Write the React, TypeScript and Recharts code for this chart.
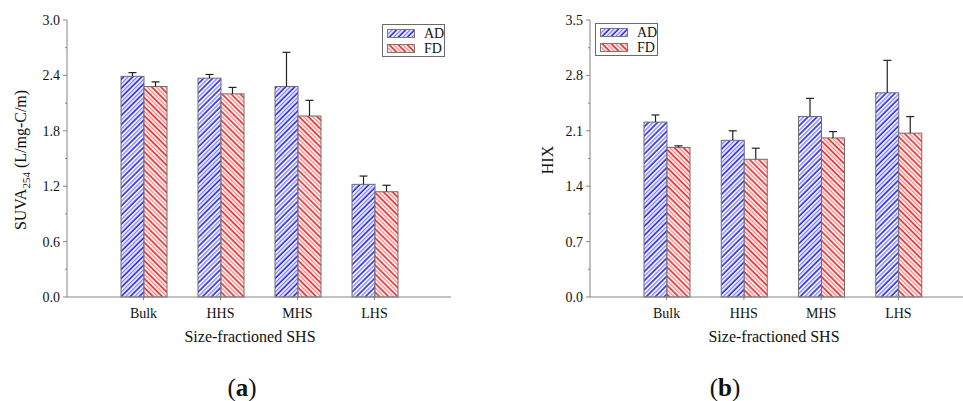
import React from "react";
import { BarChart, Bar, XAxis, YAxis } from "recharts";

// size fractions of SHS
const categories = ["Bulk", "HHS", "MHS", "LHS"];

// panel (a): SUVA254
const suvaAD = [2.39, 2.37, 2.28, 1.22];
const suvaADErr = [0.04, 0.04, 0.37, 0.09];
const suvaFD = [2.28, 2.2, 1.96, 1.14];
const suvaFDErr = [0.05, 0.07, 0.17, 0.07];
const suvaTicks = [0, 0.3, 0.6, 0.9, 1.2, 1.5, 1.8, 2.1, 2.4, 2.7, 3.0];

// panel (b): HIX
const hixAD = [2.21, 1.98, 2.28, 2.58];
const hixADErr = [0.09, 0.12, 0.23, 0.41];
const hixFD = [1.89, 1.74, 2.01, 2.07];
const hixFDErr = [0.02, 0.14, 0.08, 0.21];
const hixTicks = [0, 0.35, 0.7, 1.05, 1.4, 1.75, 2.1, 2.45, 2.8, 3.15, 3.5];

const FONT = "'Liberation Serif', 'Times New Roman', serif";
const AXIS = "#858585";

const suvaData = categories.map((name, i) => ({
  name,
  ad: suvaAD[i],
  adErr: suvaADErr[i],
  fd: suvaFD[i],
  fdErr: suvaFDErr[i],
}));

const hixData = categories.map((name, i) => ({
  name,
  ad: hixAD[i],
  adErr: hixADErr[i],
  fd: hixFD[i],
  fdErr: hixFDErr[i],
}));

const Patterns = ({ id }: { id: string }) => (
  <defs>
    <pattern
      id={`blue-${id}`}
      width="6.4"
      height="6.4"
      patternUnits="userSpaceOnUse"
      patternTransform="rotate(45)"
    >
      <rect width="6.4" height="6.4" fill="#f6f6ff" />
      <line x1="1" y1="0" x2="1" y2="6.4" stroke="#2626ee" strokeWidth="1.6" />
      <line x1="4.2" y1="0" x2="4.2" y2="6.4" stroke="#7e7eff" strokeWidth="1.3" />
    </pattern>
    <pattern
      id={`red-${id}`}
      width="6.4"
      height="6.4"
      patternUnits="userSpaceOnUse"
      patternTransform="rotate(-45)"
    >
      <rect width="6.4" height="6.4" fill="#fff6f6" />
      <line x1="1" y1="0" x2="1" y2="6.4" stroke="#f02424" strokeWidth="1.6" />
      <line x1="4.2" y1="0" x2="4.2" y2="6.4" stroke="#ff8484" strokeWidth="1.3" />
    </pattern>
  </defs>
);

// bar with a one-sided (upper) error whisker
const HatchBar = (props: any) => {
  const { x, y, width, height, fill, v, err } = props;
  if (!height || !v) return null;
  const cx = x + width / 2;
  const top = y - (err * height) / v;
  return (
    <g>
      <rect x={x} y={y} width={width} height={height} fill={fill} stroke="#6e6e6e" strokeWidth={1} />
      <line x1={cx} y1={y} x2={cx} y2={top} stroke="#222" strokeWidth={1.2} />
      <line x1={cx - 4} y1={top} x2={cx + 4} y2={top} stroke="#222" strokeWidth={1.2} />
    </g>
  );
};

const tickText: React.CSSProperties = { fontFamily: FONT, fontSize: 14, fill: "#111" };

const makeYTick = (majors: number[]) => (props: any) => {
  const { x, y, payload } = props;
  const isMajor = majors.some((m) => Math.abs(m - payload.value) < 1e-6);
  return (
    <g>
      <line x1={x} y1={y} x2={x - (isMajor ? 4 : 2)} y2={y} stroke={AXIS} />
      {isMajor && (
        <text x={x - 7} y={y} dy="0.35em" textAnchor="end" style={tickText}>
          {payload.value.toFixed(1)}
        </text>
      )}
    </g>
  );
};

const XTick = (props: any) => {
  const { x, y, payload } = props;
  return (
    <text x={x} y={y + 6} dy="0.71em" textAnchor="middle" style={tickText}>
      {payload.value}
    </text>
  );
};

const Swatch = ({ pid }: { pid: string }) => (
  <svg width={28} height={9} style={{ display: "block" }}>
    <Patterns id={`lg-${pid}`} />
    <rect x={0.5} y={0.5} width={27} height={8} fill={`url(#${pid.startsWith("b") ? "blue" : "red"}-lg-${pid})`} stroke="#7a7a7a" />
  </svg>
);

const LegendBox = ({ left, top, id }: { left: number; top: number; id: string }) => (
  <div
    style={{
      position: "absolute",
      left,
      top,
      width: 61,
      height: 31,
      border: "1px solid #6a6a6a",
      background: "#fff",
      fontFamily: FONT,
      fontSize: 14,
      color: "#111",
    }}
  >
    {[
      ["b" + id, "AD"],
      ["r" + id, "FD"],
    ].map(([pid, label], i) => (
      <div key={label} style={{ position: "absolute", left: 4, top: 4 + i * 15, display: "flex", alignItems: "center" }}>
        <Swatch pid={pid} />
        <span style={{ marginLeft: 9, lineHeight: "9px" }}>{label}</span>
      </div>
    ))}
  </div>
);

const Panel = ({
  data,
  id,
  ticks,
  majors,
  max,
  width,
  yWidth,
  right,
}: {
  data: any[];
  id: string;
  ticks: number[];
  majors: number[];
  max: number;
  width: number;
  yWidth: number;
  right: number;
}) => (
  <BarChart
    width={width}
    height={401}
    data={data}
    margin={{ top: 20, right, left: 0, bottom: 74 }}
    barGap={0}
    barSize={23}
  >
    <Patterns id={id} />
    <XAxis
      dataKey="name"
      height={30}
      padding={{ left: 38, right: 38 }}
      axisLine={{ stroke: AXIS }}
      tickLine={{ stroke: AXIS }}
      tickSize={3}
      tick={<XTick />}
    />
    <XAxis xAxisId="top" dataKey="name" orientation="top" height={0} tick={false} tickLine={false} axisLine={{ stroke: AXIS }} />
    <YAxis
      width={yWidth}
      domain={[0, max]}
      ticks={ticks}
      interval={0}
      tickLine={false}
      tickSize={0}
      tickMargin={0}
      axisLine={{ stroke: AXIS }}
      tick={makeYTick(majors)}
    />
    <YAxis yAxisId="right" orientation="right" width={0} tick={false} tickLine={false} axisLine={{ stroke: AXIS }} />
    <Bar
      dataKey="ad"
      fill={`url(#blue-${id})`}
      isAnimationActive={false}
      shape={(p: any) => <HatchBar {...p} v={p.payload.ad} err={p.payload.adErr} />}
    />
    <Bar
      dataKey="fd"
      fill={`url(#red-${id})`}
      isAnimationActive={false}
      shape={(p: any) => <HatchBar {...p} v={p.payload.fd} err={p.payload.fdErr} />}
    />
  </BarChart>
);

const textStyle: React.CSSProperties = {
  position: "absolute",
  fontFamily: FONT,
  color: "#111",
  whiteSpace: "nowrap",
  transform: "translate(-50%, -50%)",
};

export default function App() {
  return (
    <div
      style={{
        position: "fixed",
        left: 0,
        top: 0,
        width: 963,
        height: 401,
        overflow: "hidden",
        background: "#fff",
      }}
    >
      <div style={{ position: "absolute", left: 0, top: 0 }}>
        <Panel
          data={suvaData}
          id="a"
          ticks={suvaTicks}
          majors={[0, 0.6, 1.2, 1.8, 2.4, 3.0]}
          max={3}
          width={480}
          yWidth={67}
          right={29}
        />
      </div>
      <div style={{ position: "absolute", left: 480, top: 0 }}>
        <Panel
          data={hixData}
          id="b"
          ticks={hixTicks}
          majors={[0, 0.7, 1.4, 2.1, 2.8, 3.5]}
          max={3.5}
          width={520}
          yWidth={110}
          right={25}
        />
      </div>

      <LegendBox left={382} top={24} id="a" />
      <LegendBox left={595} top={23} id="b" />

      <div style={{ ...textStyle, left: 22, top: 160, fontSize: 16, transform: "translate(-50%, -50%) rotate(-90deg)" }}>
        SUVA<sub style={{ fontSize: 11, verticalAlign: "-4px" }}>254</sub> (L/mg-C/m)
      </div>
      <div style={{ ...textStyle, left: 548, top: 160, fontSize: 16, transform: "translate(-50%, -50%) rotate(-90deg)" }}>
        HIX
      </div>

      <div style={{ ...textStyle, left: 250, top: 337, fontSize: 16 }}>Size-fractioned SHS</div>
      <div style={{ ...textStyle, left: 774, top: 337, fontSize: 16 }}>Size-fractioned SHS</div>

      <div style={{ ...textStyle, left: 242, top: 388, fontSize: 25 }}>
        (<b>a</b>)
      </div>
      <div style={{ ...textStyle, left: 725, top: 388, fontSize: 25 }}>
        (<b>b</b>)
      </div>
    </div>
  );
}
